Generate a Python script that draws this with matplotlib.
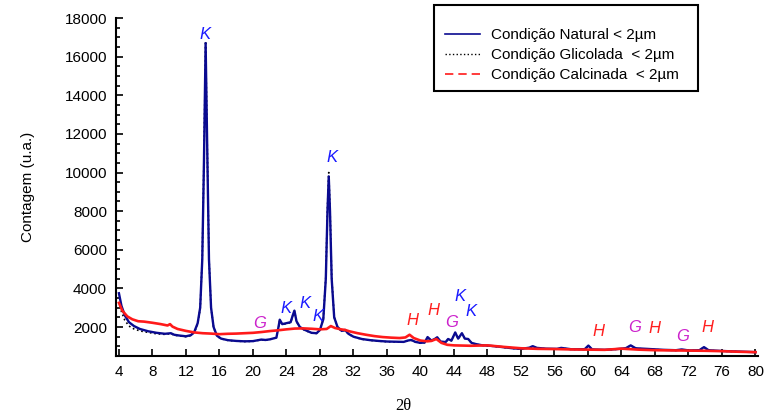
import matplotlib
matplotlib.use('Agg')
import matplotlib.pyplot as plt
from matplotlib.lines import Line2D
from matplotlib.patches import Rectangle
from matplotlib.ticker import MultipleLocator

# 2-theta positions (degrees) and counts
theta_nat = [4.0, 4.3, 4.7, 5.2, 5.8, 6.5, 7.5, 8.5, 9.5, 10.2, 10.6, 11.2, 12.0,
             12.6, 13.0, 13.4, 13.7, 13.95, 14.15, 14.35, 14.55, 14.75, 15.0, 15.3,
             15.7, 16.2, 17, 18, 19, 20, 21, 21.5, 22, 22.8, 23.05, 23.2, 23.5, 24.0,
             24.5, 24.75, 24.95, 25.2, 25.6, 26.2, 27.0, 27.6, 28.0, 28.4, 28.7, 28.9,
             29.05, 29.2, 29.4, 29.7, 30.1, 30.6, 31.0, 31.4, 32, 33, 34, 35, 36, 37,
             38, 38.5, 38.9, 39.4, 40.0, 40.5, 40.85, 41.3, 41.7, 42.0, 42.4, 43.0,
             43.3, 43.7, 44.15, 44.5, 44.95, 45.3, 45.7, 46.1, 46.6, 47.3, 48, 49, 50,
             51, 52, 53, 53.4, 53.9, 55, 56.3, 56.8, 58, 59.6, 60.05, 60.5, 62, 63.5,
             64.5, 65.1, 65.7, 67, 69, 70.5, 71.2, 72, 73.3, 73.85, 74.4, 76, 78, 80]
natural = [3750, 3100, 2600, 2250, 2050, 1900, 1780, 1700, 1650, 1680, 1600, 1560, 1520,
           1580, 1750, 2200, 3000, 5500, 10500, 16700, 11000, 5500, 3000, 2000,
           1550, 1400, 1320, 1280, 1260, 1270, 1350, 1330, 1360, 1450, 2000, 2380, 2150, 2200,
           2250, 2600, 2850, 2300, 2000, 1850, 1700, 1680, 1850, 2400, 4500, 8000,
           9800, 8000, 4500, 2500, 2000, 1800, 1850, 1650, 1500, 1380, 1320, 1280, 1250, 1240,
           1230, 1300, 1330, 1230, 1180, 1200, 1480, 1300, 1380, 1470, 1250, 1220,
           1380, 1300, 1720, 1400, 1680, 1400, 1380, 1180, 1120, 1060, 1040, 1000, 950,
           900, 870, 930, 1010, 920, 880, 870, 920, 850, 850, 1040, 840, 820, 860,
           900, 1050, 900, 870, 820, 800, 840, 790, 800, 960, 800, 760, 730, 700]

theta_gli = theta_nat
glicolada = [3300, 2800, 2350, 2050, 1900, 1800, 1720, 1650, 1620, 1660, 1580, 1540, 1500,
             1560, 1720, 2150, 2950, 5600, 10700, 16800, 11200, 5600, 3000, 1980,
             1530, 1390, 1310, 1270, 1250, 1260, 1340, 1320, 1350, 1440, 1980, 2350, 2130, 2180,
             2230, 2580, 2820, 2280, 1980, 1830, 1690, 1670, 1840, 2420, 4600, 8200,
             10000, 8200, 4600, 2520, 1980, 1780, 1830, 1640, 1490, 1370, 1310, 1270, 1240, 1230,
             1220, 1290, 1320, 1220, 1170, 1190, 1460, 1290, 1370, 1450, 1240, 1210,
             1360, 1290, 1700, 1390, 1660, 1390, 1370, 1170, 1110, 1050, 1030, 990, 940,
             890, 860, 920, 1000, 910, 870, 860, 910, 840, 840, 1030, 830, 810, 850,
             890, 1040, 890, 860, 810, 790, 830, 780, 790, 950, 790, 750, 720, 690]

theta_cal = [4.0, 4.4, 5.0, 5.6, 6.3, 7.0, 8.0, 9.0, 9.8, 10.1, 10.4, 11.0, 12.0, 13.0,
             14.0, 15.0, 16.0, 17.0, 18.0, 19.0, 20.0, 21.0, 22.0, 23.0, 24.0, 25.0,
             26.0, 27.0, 28.0, 28.8, 29.3, 29.8, 30.5, 31.0, 31.5, 32.5, 33.5, 34.5,
             35.5, 36.5, 37.5, 38.2, 38.7, 39.2, 40.0, 40.8, 41.3, 41.9, 42.5, 43.2,
             44, 45, 46, 47, 48, 50, 52, 54, 56, 58, 60, 62, 64, 66, 68, 70, 72, 74,
             76, 78, 80]
calcinada = [3250, 2850, 2550, 2400, 2300, 2280, 2220, 2150, 2080, 2150, 2020, 1900, 1800, 1720,
             1680, 1660, 1630, 1650, 1660, 1680, 1700, 1740, 1790, 1830, 1880, 1920,
             1930, 1910, 1880, 1900, 2050, 1950, 1880, 1850, 1780, 1680, 1600, 1530,
             1480, 1450, 1430, 1460, 1600, 1430, 1300, 1260, 1280, 1380, 1180, 1080,
             1050, 1040, 1030, 1040, 1050, 970, 900, 870, 860, 840, 830, 820, 880, 830,
             800, 790, 780, 770, 750, 720, 700]

# phase labels: K = caulinita, G = goethita, H = hematita
peak_labels = ['K', 'K', 'G', 'K', 'K', 'K', 'H', 'H', 'G', 'K', 'K',
               'H', 'G', 'H', 'G', 'H']
peak_theta = [14.3, 29.5, 20.8, 23.9, 26.2, 27.75, 39.1, 41.6, 43.7, 44.7, 46.0,
              61.3, 65.6, 68.0, 71.3, 74.3]
peak_count = [17150, 10800, 2200, 2980, 3240, 2570, 2360, 2830, 2260, 3600, 2780,
              1790, 1950, 1900, 1530, 1950]
label_colors = {'K': '#1a1aff', 'G': '#cc22cc', 'H': '#ff2020'}

blue = '#0a0a90'
red = '#ff1a1a'

fig = plt.figure(figsize=(7.65, 4.17), dpi=100)
ax = fig.add_axes([116 / 765, 1 - 356 / 417, (758 - 116) / 765, (356 - 18) / 417])

ax.plot(theta_gli, glicolada, color='black', linestyle=':', linewidth=1.2, zorder=2)
ax.plot(theta_nat, natural, color=blue, linewidth=1.7, zorder=3)
ax.plot(theta_cal, calcinada, color=red, linewidth=1.9, zorder=4)

for lab, t, c in zip(peak_labels, peak_theta, peak_count):
    ax.text(t, c, lab, color=label_colors[lab], fontsize=12, style='italic',
            family='Liberation Sans', ha='center', va='center', zorder=5)

ax.set_xlim(3.65, 80.3)
ax.set_ylim(500, 18000)
ax.set_xticks(range(4, 81, 4))
ax.set_yticks(range(2000, 18001, 2000))
ax.yaxis.set_minor_locator(MultipleLocator(500))
for side in ('top', 'right'):
    ax.spines[side].set_visible(False)
for side in ('left', 'bottom'):
    ax.spines[side].set_linewidth(1.5)
ax.tick_params(which='both', direction='in', width=1.2)
ax.tick_params(which='major', length=5)
ax.tick_params(which='minor', length=3)
ax.tick_params(axis='y', pad=6.5)
ax.tick_params(axis='x', pad=6.5)
for lbl in ax.get_xticklabels() + ax.get_yticklabels():
    lbl.set_family('Liberation Sans')
    lbl.set_fontsize(11)

ax.set_ylabel('Contagem (u.a.)', family='Liberation Sans', fontsize=11, labelpad=21)
fig.text(403 / 765, 1 - 406 / 417, '2θ', family='Liberation Serif', fontsize=12,
         ha='center', va='center')

# legend with a square black frame
fig.patches.append(Rectangle((434 / 765, 1 - 91 / 417), (698 - 434) / 765, (91 - 5) / 417,
                             transform=fig.transFigure, facecolor='white',
                             edgecolor='black', linewidth=1.5, zorder=10))
handles = [Line2D([], [], color=blue, linewidth=1.2),
           Line2D([], [], color='black', linestyle=':', linewidth=1.0),
           Line2D([], [], color=red, linestyle=(0, (5, 3)), linewidth=1.2)]
names = ['Condição Natural < 2µm', 'Condição Glicolada  < 2µm', 'Condição Calcinada  < 2µm']
leg = fig.legend(handles, names, loc='upper left', bbox_to_anchor=(445 / 765, 1 - 28 / 417),
                 frameon=False, prop={'family': 'Liberation Sans', 'size': 11},
                 handlelength=2.3, handletextpad=0.7, labelspacing=0.4,
                 borderpad=0, borderaxespad=0)
leg.set_zorder(11)

fig.savefig('out.png', dpi=100)
